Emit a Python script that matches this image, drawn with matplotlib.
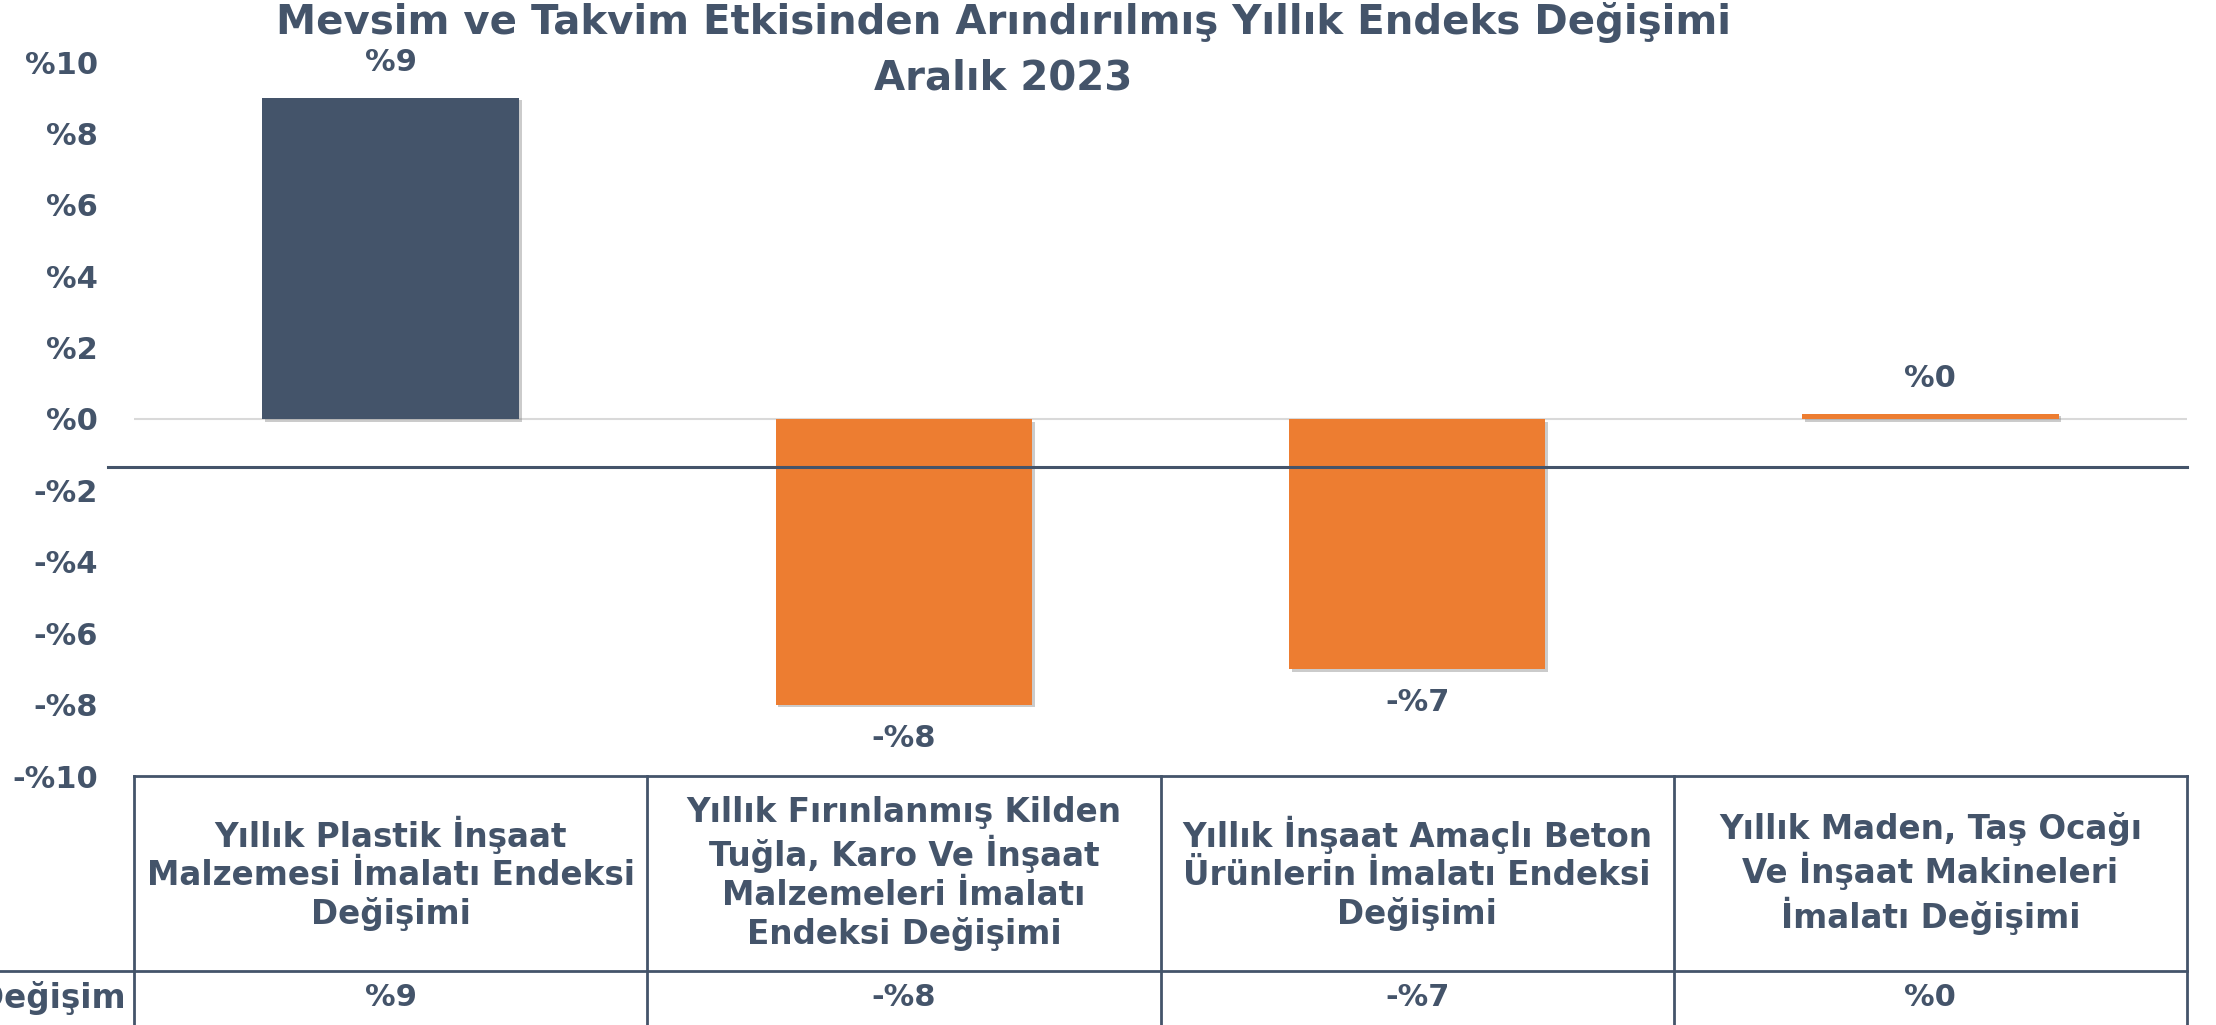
import matplotlib
matplotlib.use("Agg")
import matplotlib.pyplot as plt
import matplotlib.patheffects as pe
from matplotlib.ticker import FuncFormatter

# Chart data
categories = [
    "Yıllık Plastik İnşaat\nMalzemesi İmalatı Endeksi\nDeğişimi",
    "Yıllık Fırınlanmış Kilden\nTuğla, Karo Ve İnşaat\nMalzemeleri İmalatı\nEndeksi Değişimi",
    "Yıllık İnşaat Amaçlı Beton\nÜrünlerin İmalatı Endeksi\nDeğişimi",
    "Yıllık Maden, Taş Ocağı\nVe İnşaat Makineleri\nİmalatı Değişimi",
]
values = [9.0, -8.0, -7.0, 0.15]
value_labels = ["%9", "-%8", "-%7", "%0"]
row_label = "Değişim"
yticks = [-10, -8, -6, -4, -2, 0, 2, 4, 6, 8, 10]
title = "Mevsim ve Takvim Etkisinden Arındırılmış Yıllık Endeks Değişimi\nAralık 2023"
ref_line = -1.35

text_color = "#44546A"
bar_colors = ["#44546A", "#ED7D31", "#ED7D31", "#ED7D31"]
font = "DejaVu Sans"

W, H = 2216, 1025
fig = plt.figure(figsize=(W / 100, H / 100), dpi=100)

# plot area (pixel positions from the reference)
left, right = 134 / W, 2187 / W
top, bottom = 1 - 62 / H, 1 - 776 / H
ax = fig.add_axes([left, bottom, right - left, top - bottom])

x = list(range(len(categories)))
bars = ax.bar(x, values, width=0.5, color=bar_colors, zorder=3)
for b in bars:
    b.set_path_effects([pe.SimplePatchShadow(offset=(2, -2), shadow_rgbFace="#7f7f7f", alpha=0.4), pe.Normal()])

ax.set_xlim(-0.5, len(categories) - 0.5)
ax.set_ylim(-10, 10)
ax.set_yticks(yticks)
ax.yaxis.set_major_formatter(FuncFormatter(lambda v, p: f"-%{abs(int(v))}" if v < 0 else f"%{int(v)}"))
ax.tick_params(axis="y", length=0, pad=26, labelsize=22, labelcolor=text_color)
for lab in ax.get_yticklabels():
    lab.set_fontfamily(font)
    lab.set_fontweight("bold")
ax.set_xticks([])
for s in ax.spines.values():
    s.set_visible(False)

ax.axhline(0, color="#D9D9D9", lw=1.5, zorder=1)
ax.axhline(ref_line, xmin=(108 - 134) / (2187 - 134), xmax=1, color=text_color,
           lw=2.2, zorder=4, clip_on=False)

for xi, v, lab in zip(x, values, value_labels):
    if v >= 0:
        ax.annotate(lab, (xi, v), xytext=(0, 15), textcoords="offset points",
                    ha="center", va="bottom", fontsize=22, fontweight="bold",
                    color=text_color, family=font)
    else:
        ax.annotate(lab, (xi, v), xytext=(0, -14), textcoords="offset points",
                    ha="center", va="top", fontsize=22, fontweight="bold",
                    color=text_color, family=font)

fig.text(1003 / W, 1 - 2 / H, title, ha="center", va="top", fontsize=29,
         fontweight="bold", color=text_color, family=font, linespacing=1.5)

# data table under the chart
axt = fig.add_axes([left, 0, right - left, bottom])
axt.set_xlim(-0.5, len(categories) - 0.5)
axt.set_ylim(0, 1)
axt.axis("off")
split = (H - 971) / (H - 776)
lc = text_color
axt.plot([-0.5, len(categories) - 0.5], [1, 1], color=lc, lw=2, clip_on=False)
axt.plot([-0.5, len(categories) - 0.5], [split, split], color=lc, lw=2, clip_on=False)
axt.plot([-0.5 - 0.27, -0.5], [split, split], color=lc, lw=2, clip_on=False)
for xv in [i - 0.5 for i in range(len(categories) + 1)]:
    axt.plot([xv, xv], [0, 1], color=lc, lw=2, clip_on=False)
for xi, cat, lab in zip(x, categories, value_labels):
    axt.text(xi, (1 + split) / 2, cat, ha="center", va="center", fontsize=23.5,
             fontweight="bold", color=text_color, family=font, linespacing=1.2)
    axt.text(xi, split / 2, lab, ha="center", va="center", fontsize=22,
             fontweight="bold", color=text_color, family=font)
axt.text(-0.516, split / 2, row_label, ha="right", va="center", fontsize=23.5,
         fontweight="bold", color=text_color, family=font, clip_on=False)

fig.savefig("out.png", dpi=100)
